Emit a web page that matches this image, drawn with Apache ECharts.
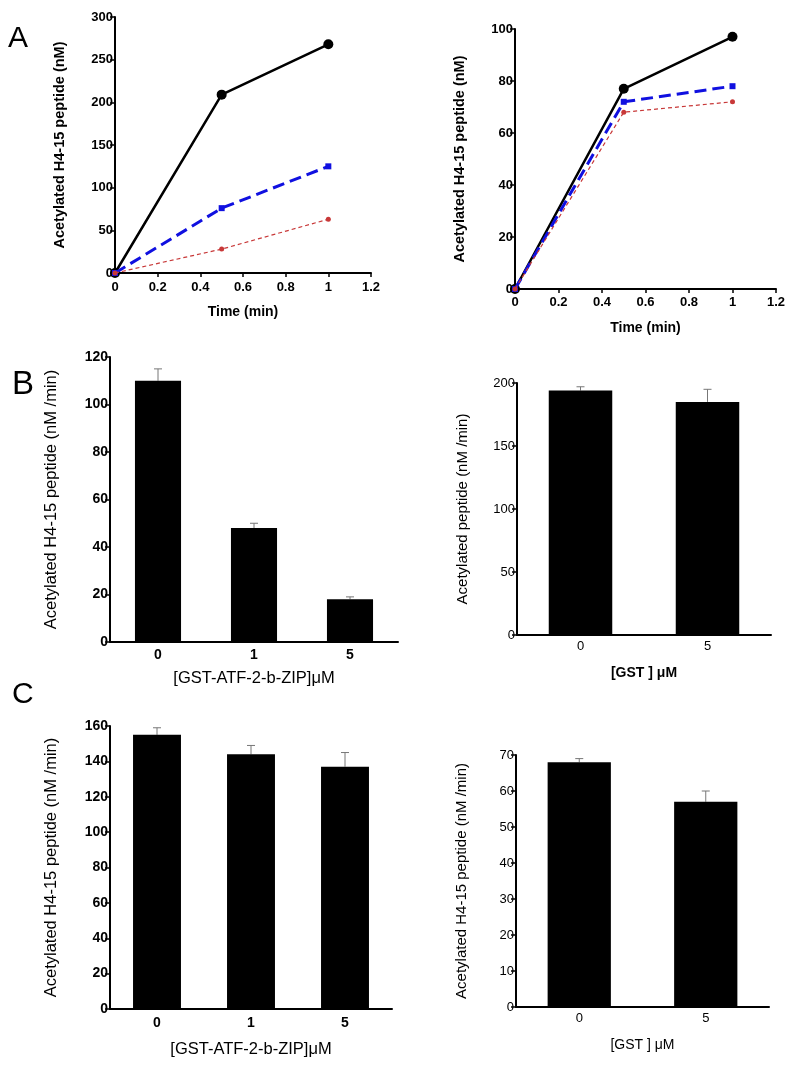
<!DOCTYPE html>
<html><head><meta charset="utf-8">
<script src="https://cdn.jsdelivr.net/npm/echarts@6/dist/echarts.min.js"></script>
<style>html,body{margin:0;padding:0;background:#fff}#c{width:795px;height:1066px}</style>
</head><body><div id="c"></div>
<script>
// Panel A data (time courses)
const timeA = [0, 0.5, 1];
const a1Black = [0, 209, 268];
const a1Blue = [0, 76, 125];
const a1Red = [0, 28, 63];
const a2Black = [0, 77, 97];
const a2Blue = [0, 72, 78];
const a2Red = [0, 68, 72];
// Panel B
const bCats = ['0', '1', '5'];
const bVals = [110, 48, 18];
const bErr = [5, 2, 1];
const b2Cats = ['0', '5'];
const b2Vals = [194, 185];
const b2Err = [3, 10];
// Panel C
const cCats = ['0', '1', '5'];
const cVals = [155, 144, 137];
const cErr = [4, 5, 8];
const c2Cats = ['0', '5'];
const c2Vals = [68, 57];
const c2Err = [1, 3];

const FF = 'Liberation Sans, Arial, sans-serif';
const chart = echarts.init(document.getElementById('c'), null, {renderer: 'canvas'});

function pair(xs, ys) { return xs.map((x, i) => [x, ys[i]]); }
function ts(size, bold) { return {fontFamily: FF, fontSize: size, fontWeight: bold ? 'bold' : 'normal', color: '#000'}; }

const axisLine = {lineStyle: {color: '#000', width: 2}};
function yAx(gi, max, interval, name, gap, nameStyle, labelStyle) {
  return {
    type: 'value', gridIndex: gi, min: 0, max: max, interval: interval,
    name: name, nameLocation: 'middle', nameRotate: 90, nameGap: gap,
    nameTextStyle: nameStyle,
    axisLine: Object.assign({show: true}, axisLine),
    axisTick: {show: true, length: 5, lineStyle: {color: '#000', width: 1.5}},
    axisLabel: Object.assign({margin: 2}, labelStyle),
    splitLine: {show: false}
  };
}
function xVal(gi, name, gap, margin) {
  return {
    type: 'value', gridIndex: gi, min: 0, max: 1.2, interval: 0.2,
    name: name, nameLocation: 'middle', nameGap: gap,
    nameTextStyle: ts(14, true),
    axisLine: axisLine,
    axisTick: {show: true, length: 4, lineStyle: {color: '#000', width: 1.5}},
    axisLabel: Object.assign({margin: margin, formatter: v => String(+v.toFixed(1))}, ts(13, true)),
    splitLine: {show: false}
  };
}
function xCat(gi, cats, name, gap, nameStyle, labelStyle) {
  return {
    type: 'category', gridIndex: gi, data: cats,
    name: name, nameLocation: 'middle', nameGap: gap,
    nameTextStyle: nameStyle,
    axisLine: axisLine, axisTick: {show: false},
    axisLabel: labelStyle
  };
}

function lineSeries(gi, ys, kind) {
  const base = {type: 'line', xAxisIndex: gi, yAxisIndex: gi, data: pair(timeA, ys), animation: false};
  if (kind === 'black') return Object.assign(base, {symbol: 'circle', symbolSize: 10,
    itemStyle: {color: '#000'}, lineStyle: {color: '#000', width: 2.5}, z: 3});
  if (kind === 'blue') return Object.assign(base, {symbol: 'rect', symbolSize: 6,
    itemStyle: {color: '#1010e0'}, lineStyle: {color: '#1010e0', width: 3, type: [12, 6]}, z: 4});
  return Object.assign(base, {symbol: 'circle', symbolSize: 5,
    itemStyle: {color: '#c83838'}, lineStyle: {color: '#c83838', width: 1.2, type: [4, 3]}, z: 5});
}
function barSeries(gi, vals, width) {
  return {type: 'bar', xAxisIndex: gi, yAxisIndex: gi, data: vals, barWidth: width,
    itemStyle: {color: '#000'}, animation: false, z: 2};
}
function errSeries(gi, vals, errs) {
  return {type: 'custom', xAxisIndex: gi, yAxisIndex: gi, animation: false, z: 1,
    data: vals.map((v, i) => [i, v, v + errs[i]]),
    renderItem: function (params, api) {
      const top = api.coord([api.value(0), api.value(2)]);
      const base = api.coord([api.value(0), api.value(1)]);
      return {type: 'group', children: [
        {type: 'line', shape: {x1: top[0], y1: top[1], x2: base[0], y2: base[1]}, style: {stroke: '#777', lineWidth: 1}},
        {type: 'line', shape: {x1: top[0] - 4, y1: top[1], x2: top[0] + 4, y2: top[1]}, style: {stroke: '#777', lineWidth: 1}}
      ]};
    }};
}

chart.setOption({
  animation: false,
  grid: [
    {left: 115, top: 17, width: 256, height: 256},
    {left: 515, top: 29, width: 261, height: 260},
    {left: 110, top: 357, width: 288, height: 285},
    {left: 517, top: 383, width: 254, height: 252},
    {left: 110, top: 726, width: 282, height: 283},
    {left: 516, top: 755, width: 253, height: 252}
  ],
  xAxis: [
    xVal(0, 'Time (min)', 32, 8),
    xVal(1, 'Time (min)', 32, 7),
    xCat(2, bCats, '[GST-ATF-2-b-ZIP]\u03bcM', 28, ts(16.5, false), Object.assign({margin: 6}, ts(14, true))),
    xCat(3, b2Cats, '[GST ] \u03bcM', 31, ts(14, true), Object.assign({margin: 5}, ts(13, false))),
    xCat(4, cCats, '[GST-ATF-2-b-ZIP]\u03bcM', 32, ts(16.5, false), Object.assign({margin: 7}, ts(14, true))),
    xCat(5, c2Cats, '[GST ] \u03bcM', 31, ts(14, false), Object.assign({margin: 5}, ts(13, false)))
  ],
  yAxis: [
    yAx(0, 300, 50, 'Acetylated H4-15 peptide (nM)', 48, ts(14.5, true), ts(13, true)),
    yAx(1, 100, 20, 'Acetylated H4-15 peptide (nM)', 48, ts(14.5, true), ts(13, true)),
    yAx(2, 120, 20, 'Acetylated H4-15 peptide (nM /min)', 50, ts(16.5, false), ts(14, true)),
    yAx(3, 200, 50, 'Acetylated peptide (nM /min)', 47, ts(15, false), ts(13, false)),
    yAx(4, 160, 20, 'Acetylated H4-15 peptide (nM /min)', 50, ts(16.5, false), ts(14, true)),
    yAx(5, 70, 10, 'Acetylated H4-15 peptide (nM /min)', 47, ts(15, false), ts(13, false))
  ],
  series: [
    lineSeries(0, a1Black, 'black'), lineSeries(0, a1Blue, 'blue'), lineSeries(0, a1Red, 'red'),
    lineSeries(1, a2Black, 'black'), lineSeries(1, a2Blue, 'blue'), lineSeries(1, a2Red, 'red'),
    errSeries(2, bVals, bErr), barSeries(2, bVals, '48%'),
    errSeries(3, b2Vals, b2Err), barSeries(3, b2Vals, '50%'),
    errSeries(4, cVals, cErr), barSeries(4, cVals, '51%'),
    errSeries(5, c2Vals, c2Err), barSeries(5, c2Vals, '50%')
  ],
  graphic: [
    {type: 'text', left: 8, top: 24, style: {text: 'A', fontFamily: FF, fontSize: 30, fill: '#000'}},
    {type: 'text', left: 12, top: 368, style: {text: 'B', fontFamily: FF, fontSize: 33, fill: '#000'}},
    {type: 'text', left: 12, top: 680, style: {text: 'C', fontFamily: FF, fontSize: 30, fill: '#000'}}
  ]
});
</script></body></html>
